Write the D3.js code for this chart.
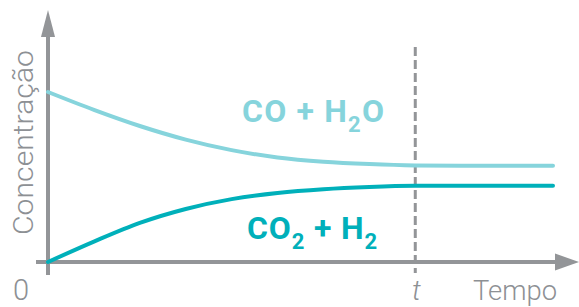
<!DOCTYPE html>
<html>
<head>
<meta charset="utf-8">
<script src="https://cdn.jsdelivr.net/npm/d3@7"></script>
<style>
  body { margin: 0; background: #fff; }
  svg { display: block; }
</style>
</head>
<body>
<svg id="chart" width="579" height="307"></svg>
<script>
// time points and concentrations
var tempo = [0, 1, 2, 3, 4, 5, 6, 7, 8, 9, 10, 11];
var reagentes = [10, 8.95, 8.0, 7.2, 6.58, 6.15, 5.9, 5.76, 5.68, 5.66, 5.66, 5.66];   // CO + H2O
var produtos = [0, 1.2, 2.3, 3.12, 3.7, 4.06, 4.28, 4.41, 4.48, 4.49, 4.49, 4.49];      // CO2 + H2
var tEquilibrio = 8;

var axisColor = '#939598';
var textColor = '#8d9094';
var lightCyan = '#86d4dc';
var darkCyan = '#00b0ba';

var svg = d3.select('#chart');

var x = d3.scaleLinear().domain([0, 11]).range([48, 553]);
var y = d3.scaleLinear().domain([0, 10]).range([262, 92]);

// dashed line at t
svg.append('line')
  .attr('x1', x(tEquilibrio)).attr('x2', x(tEquilibrio))
  .attr('y1', 47).attr('y2', 273)
  .attr('stroke', axisColor)
  .attr('stroke-width', 3)
  .attr('stroke-dasharray', '9,4');

// axes
svg.append('line')
  .attr('x1', x(0)).attr('x2', x(0))
  .attr('y1', 275).attr('y2', 36)
  .attr('stroke', axisColor).attr('stroke-width', 4);
svg.append('path')
  .attr('d', 'M' + (x(0) - 7) + ',37 L' + x(0) + ',10 L' + (x(0) + 7) + ',37 Z')
  .attr('fill', axisColor);

svg.append('line')
  .attr('x1', 36).attr('x2', 556)
  .attr('y1', y(0)).attr('y2', y(0))
  .attr('stroke', axisColor).attr('stroke-width', 4);
svg.append('path')
  .attr('d', 'M555,' + (y(0) - 8.5) + ' L579,' + y(0) + ' L555,' + (y(0) + 8.5) + ' Z')
  .attr('fill', axisColor);

// curves
var line = d3.line()
  .x(function(d, i) { return x(tempo[i]); })
  .y(function(d) { return y(d); })
  .curve(d3.curveMonotoneX);

svg.append('path')
  .datum(reagentes)
  .attr('d', line)
  .attr('fill', 'none')
  .attr('stroke', lightCyan)
  .attr('stroke-width', 4)
  .attr('stroke-linecap', 'round');

svg.append('path')
  .datum(produtos)
  .attr('d', line)
  .attr('fill', 'none')
  .attr('stroke', darkCyan)
  .attr('stroke-width', 4)
  .attr('stroke-linecap', 'round');

// series labels
function formula(parts, xPos, yPos, color, len) {
  var t = svg.append('text')
    .attr('x', xPos).attr('y', yPos)
    .attr('font-family', 'Roboto, sans-serif')
    .attr('font-weight', 'bold')
    .attr('font-size', 32)
    .attr('fill', color)
    .attr('textLength', len)
    .attr('lengthAdjust', 'spacing');
  parts.forEach(function(p) {
    var ts = t.append('tspan').text(p[0]);
    if (p[1]) ts.attr('font-size', 22).attr('dy', 10);
    else if (p[2]) ts.attr('dy', -10);
  });
  return t;
}
formula([['CO + H'], ['2', true], ['O', false, true]], 242, 122, lightCyan, 142);
formula([['CO'], ['2', true], [' + H', false, true], ['2', true]], 247, 239, darkCyan, 130);

// axis labels
svg.append('text')
  .attr('transform', 'translate(33,235) rotate(-90)')
  .attr('font-family', 'Roboto, sans-serif')
  .attr('font-weight', 300)
  .attr('font-size', 28)
  .attr('fill', textColor)
  .attr('textLength', 185)
  .attr('lengthAdjust', 'spacingAndGlyphs')
  .text('Concentração');

svg.append('text')
  .attr('x', 21).attr('y', 300)
  .attr('text-anchor', 'middle')
  .attr('font-family', 'Roboto, sans-serif')
  .attr('font-weight', 300)
  .attr('font-size', 29)
  .attr('fill', textColor)
  .text('0');

svg.append('text')
  .attr('x', x(tEquilibrio) + 1).attr('y', 300)
  .attr('text-anchor', 'middle')
  .attr('font-family', 'Roboto, sans-serif')
  .attr('font-style', 'italic')
  .attr('font-weight', 300)
  .attr('font-size', 28)
  .attr('fill', textColor)
  .text('t');

svg.append('text')
  .attr('x', 473).attr('y', 300)
  .attr('font-family', 'Roboto, sans-serif')
  .attr('font-weight', 300)
  .attr('font-size', 28)
  .attr('fill', textColor)
  .attr('textLength', 84)
  .attr('lengthAdjust', 'spacingAndGlyphs')
  .text('Tempo');
</script>
</body>
</html>
